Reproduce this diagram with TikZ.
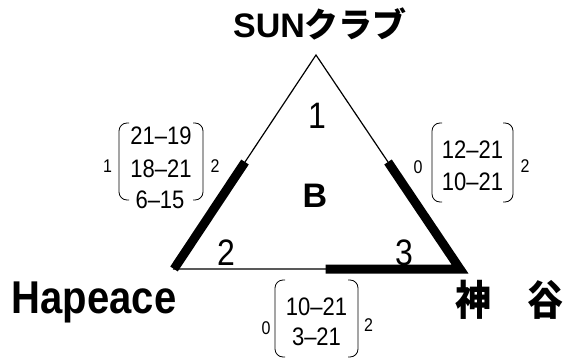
\documentclass[tikz,border=0pt]{standalone}
\usepackage{fontspec}
\usepackage{graphicx}
\setmainfont{Liberation Sans}
\newfontfamily\jpfont{Noto Sans CJK JP}
\usetikzlibrary{calc}
\newcommand{\vsc}[1]{\scalebox{1}[1.15]{#1}}
\tikzset{
  thinedge/.style={line width=1.2pt},
  thickedge/.style={line width=9pt, line join=miter, line cap=butt},
  paren/.style={line width=0.8pt, rounded corners=8pt},
  entry/.style={anchor=base, inner sep=0pt, font=\fontsize{22}{22}\selectfont},
  idx/.style={anchor=base, inner sep=0pt, font=\fontsize{16}{16}\selectfont},
  corner/.style={anchor=base, inner sep=0pt, font=\fontsize{32}{32}\selectfont},
  team/.style={inner sep=0pt},
}
\begin{document}
\begin{tikzpicture}[x=1pt,y=-1pt]
\useasboundingbox[fill=white] (0,0) rectangle (569,358);
% triangle
\coordinate (A) at (316,55);
\coordinate (L) at (174,269);
\coordinate (R) at (460,269);
\draw[thinedge] (A) -- (L) -- (R) -- cycle;
\draw[thickedge] (L) -- ($(L)!0.5!(A)$);
\draw[thickedge] ($(R)!0.5!(A)$) -- (R) -- ($(R)!0.47!(L)$);
% team names
\node[team, anchor=base] (title) at (320,38) {\fontsize{34}{34}\selectfont\bfseries SUN{\jpfont クラブ}};
\node[team, anchor=base] (hap) at (94,313) {\fontsize{40}{40}\selectfont\bfseries\vsc{Hapeace}};
\node[team] (kam) at (509,300) {\jpfont\bfseries\fontsize{36}{36}\selectfont\vsc{神　谷}};
% inner labels
\node[corner] (c1) at (317,129) {\vsc{1}};
\node[corner] (c2) at (226,265) {\vsc{2}};
\node[corner] (c3) at (404,265) {\vsc{3}};
\node[anchor=base, inner sep=0pt, font=\fontsize{34}{34}\selectfont\bfseries] (grp) at (315,207) {B};
% left matrix
\draw[paren] (129,123) -- (119,123) -- (119,200) -- (129,200);
\draw[paren] (193,123) -- (203,123) -- (203,200) -- (193,200);
\node[entry] (l1) at (161,145) {\vsc{21–19}};
\node[entry] (l2) at (161,177) {\vsc{18–21}};
\node[entry] (l3) at (160,208) {\vsc{6–15}};
\node[idx] (li) at (107.5,172) {\vsc{1}};
\node[idx] (lj) at (215,172) {\vsc{2}};
% right matrix
\draw[paren] (442,123) -- (432,123) -- (432,202) -- (442,202);
\draw[paren] (503,123) -- (513,123) -- (513,202) -- (503,202);
\node[entry] (r1) at (472.5,158) {\vsc{12–21}};
\node[entry] (r2) at (472.5,190) {\vsc{10–21}};
\node[idx] (ri) at (418,173) {\vsc{0}};
\node[idx] (rj) at (525,172) {\vsc{2}};
% bottom matrix
\draw[paren] (285,280) -- (275,280) -- (275,357) -- (285,357);
\draw[paren] (348,280) -- (358,280) -- (358,357) -- (348,357);
\node[entry] (b1) at (316.5,315) {\vsc{10–21}};
\node[entry] (b2) at (316.5,345) {\vsc{3–21}};
\node[idx] (bi) at (266,334) {\vsc{0}};
\node[idx] (bj) at (368.5,331) {\vsc{2}};
\end{tikzpicture}
\end{document}
